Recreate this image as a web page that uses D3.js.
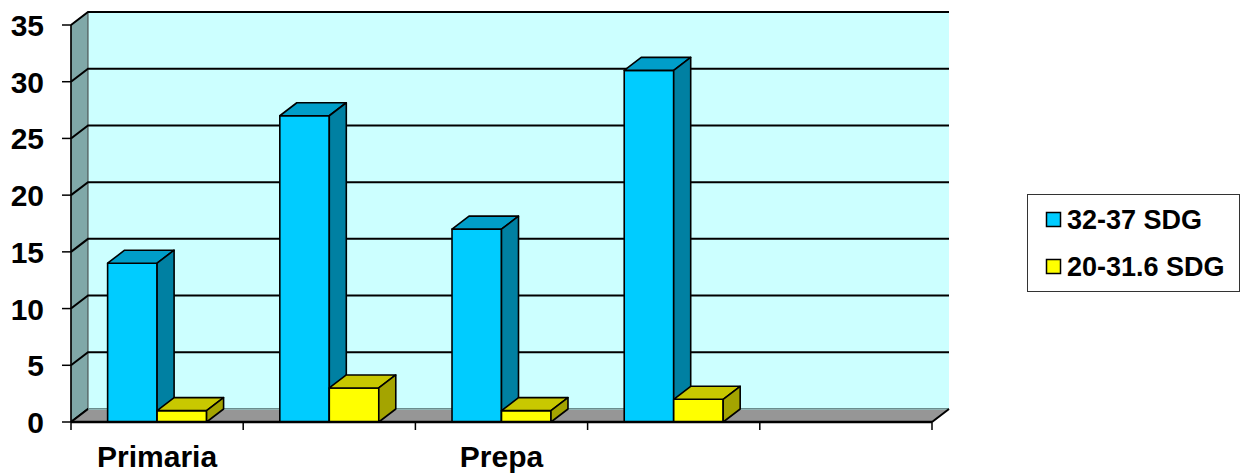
<!DOCTYPE html>
<html>
<head>
<meta charset="utf-8">
<script src="https://cdn.jsdelivr.net/npm/d3@7"></script>
<style>
  body { margin: 0; background: #fff; }
  text { font-family: "Liberation Sans", Arial, sans-serif; font-weight: bold; fill: #000; }
</style>
</head>
<body>
<svg id="chart" width="1241" height="474"></svg>
<script>
// data
var categories = ["Primaria", "", "Prepa", "", ""];
var seriesNames = ["32-37 SDG", "20-31.6 SDG"];
var blueValues = [14, 27, 17, 31, null];
var yellowValues = [1, 3, 1, 2, null];
var yTicks = [0, 5, 10, 15, 20, 25, 30, 35];

var seriesColors = [
  {front: "#00CCFF", top: "#009EC9", side: "#0080A2"},
  {front: "#FFFF00", top: "#C8C800", side: "#A4A400"}
];

var dx = 17, dy = -13;   // depth offset of the 3d box
var svg = d3.select("#chart");

var x = d3.scaleBand().domain(d3.range(categories.length)).range([71, 932]).paddingInner(0).paddingOuter(0);
var xs = d3.scaleBand().domain(d3.range(seriesNames.length)).range([0, x.bandwidth()]).paddingInner(0).paddingOuter(0.74);
var y = d3.scaleLinear().domain([0, 35]).range([422, 25]);

var x0 = 71, x1 = 932;

// back wall
svg.append("rect")
  .attr("x", x0 + dx).attr("y", y(35) + dy)
  .attr("width", x1 - x0).attr("height", y(0) - y(35))
  .attr("fill", "#CCFFFF");

// left side wall
svg.append("path")
  .attr("d", "M" + x0 + "," + y(35) + "L" + (x0 + dx) + "," + (y(35) + dy) +
             "L" + (x0 + dx) + "," + (y(0) + dy) + "L" + x0 + "," + y(0) + "Z")
  .attr("fill", "#80A8A8")
  .attr("stroke", "#404040")
  .attr("stroke-width", 1);

// gridlines, on the back wall and across the side wall
var grid = svg.append("g");
yTicks.forEach(function(t) {
  grid.append("path")
    .attr("d", "M" + x0 + "," + y(t) + "L" + (x0 + dx) + "," + (y(t) + dy) + "L" + (x1 + dx) + "," + (y(t) + dy))
    .attr("fill", "none")
    .attr("stroke", "#000")
    .attr("stroke-width", 2);
});

// floor
svg.append("path")
  .attr("d", "M" + x0 + "," + y(0) + "L" + (x0 + dx) + "," + (y(0) + dy) +
             "L" + (x1 + dx) + "," + (y(0) + dy) + "L" + x1 + "," + y(0) + "Z")
  .attr("fill", "#969696");
svg.append("path")
  .attr("d", "M" + (x0 + dx) + "," + (y(0) + dy) + "L" + (x1 + dx) + "," + (y(0) + dy))
  .attr("stroke", "#8FBDBD").attr("stroke-width", 1.5);
svg.append("path")
  .attr("d", "M" + x0 + "," + y(0) + "L" + (x0 + dx) + "," + (y(0) + dy) +
             "M" + x1 + "," + y(0) + "L" + (x1 + dx) + "," + (y(0) + dy))
  .attr("fill", "none").attr("stroke", "#000").attr("stroke-width", 2);

// bars
var allValues = [blueValues, yellowValues];
var bars = svg.append("g");
categories.forEach(function(c, i) {
  allValues.forEach(function(vals, s) {
    var v = vals[i];
    if (v == null) return;
    var bx = x(i) + xs(s), bw = xs.bandwidth();
    var top = y(v), bot = y(0);
    var col = seriesColors[s];
    var g = bars.append("g").attr("stroke", "#000").attr("stroke-width", 1.6).attr("stroke-linejoin", "round");
    g.append("rect").attr("x", bx).attr("y", top).attr("width", bw).attr("height", bot - top).attr("fill", col.front);
    g.append("path")
      .attr("d", "M" + bx + "," + top + "L" + (bx + dx) + "," + (top + dy) + "L" + (bx + bw + dx) + "," + (top + dy) + "L" + (bx + bw) + "," + top + "Z")
      .attr("fill", col.top);
    g.append("path")
      .attr("d", "M" + (bx + bw) + "," + top + "L" + (bx + bw + dx) + "," + (top + dy) + "L" + (bx + bw + dx) + "," + (bot + dy) + "L" + (bx + bw) + "," + bot + "Z")
      .attr("fill", col.side);
  });
});

// x axis
var xAxis = svg.append("g");
xAxis.append("line").attr("x1", x0).attr("x2", x1).attr("y1", y(0)).attr("y2", y(0))
  .attr("stroke", "#000").attr("stroke-width", 2.5);
d3.range(categories.length + 1).forEach(function(i) {
  var tx = i < categories.length ? x(i) : x1;
  xAxis.append("line").attr("x1", tx).attr("x2", tx).attr("y1", y(0)).attr("y2", y(0) + 8)
    .attr("stroke", "#000").attr("stroke-width", 1.5);
});
xAxis.selectAll("text.cat").data(categories).enter().append("text")
  .attr("class", "cat")
  .attr("x", function(d, i) { return x(i) + x.bandwidth() / 2; })
  .attr("y", 467)
  .attr("text-anchor", "middle")
  .style("font-size", "30px")
  .text(function(d) { return d; });

// y axis
var yAxis = svg.append("g");
yAxis.append("line").attr("x1", x0).attr("x2", x0).attr("y1", y(35)).attr("y2", y(0))
  .attr("stroke", "#000").attr("stroke-width", 1.5);
yTicks.forEach(function(t) {
  yAxis.append("line").attr("x1", 62).attr("x2", x0).attr("y1", y(t)).attr("y2", y(t))
    .attr("stroke", "#000").attr("stroke-width", 1.5);
  yAxis.append("text")
    .attr("x", 44).attr("y", y(t) + 11)
    .attr("text-anchor", "end")
    .style("font-size", "30px")
    .text(t);
});

// legend
var legend = svg.append("g");
legend.append("rect").attr("x", 1027.5).attr("y", 194.5).attr("width", 212).attr("height", 97)
  .attr("fill", "#fff").attr("stroke", "#333").attr("stroke-width", 1);
seriesNames.forEach(function(n, s) {
  var ly = 212 + s * 47;
  legend.append("rect").attr("x", 1046.5).attr("y", ly + 0.5).attr("width", 14).attr("height", 14)
    .attr("fill", seriesColors[s].front).attr("stroke", "#000").attr("stroke-width", 1.5);
  legend.append("text").attr("x", 1067).attr("y", ly + 17)
    .style("font-size", "27px")
    .text(n);
});
</script>
</body>
</html>
